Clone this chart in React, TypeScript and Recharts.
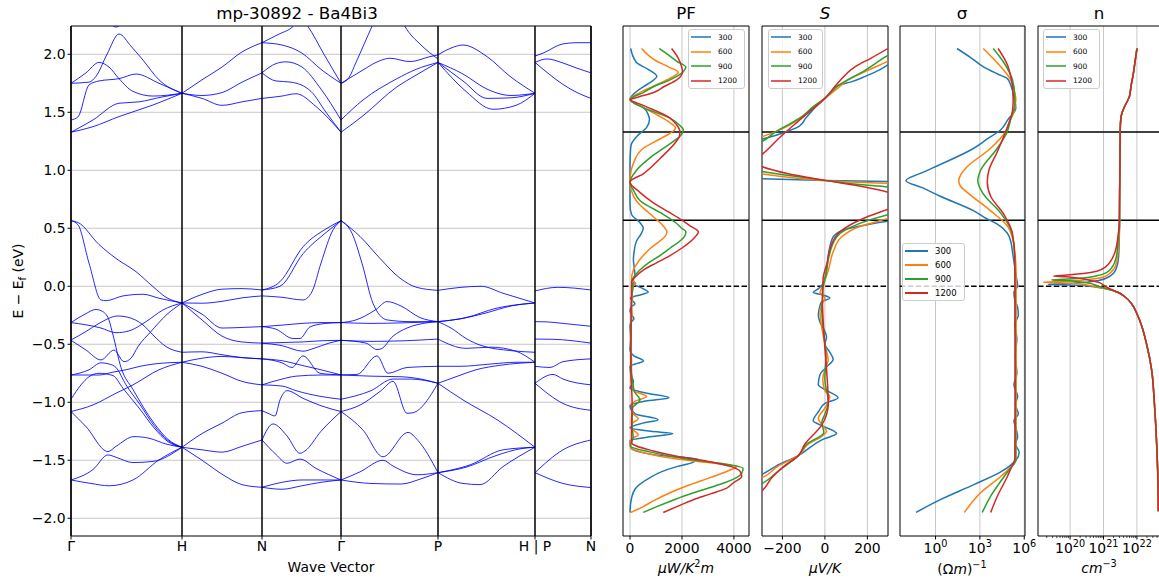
import React from 'react';
import {
  LineChart,
  Line,
  XAxis,
  YAxis,
  CartesianGrid,
  ReferenceLine,
  ReferenceArea,
  Legend,
} from 'recharts';

type Pt = [number, number];

const FONT = '"DejaVu Sans", sans-serif';
const E_MIN = -2.153;
const E_MAX = 2.244;
const energyTicks = [-2, -1.5, -1, -0.5, 0, 0.5, 1, 1.5, 2];
const gapEdges = [1.33, 0.57];

// band structure: k in plot units, high symmetry points
const kPoints = [0, 111, 191, 270, 367, 464, 520];
const kLabels = ['Γ', 'H', 'N', 'Γ', 'P', 'H | P', 'N'];

const temps = ['300', '600', '900', '1200'];
const tempColors = ['#1f77b4', '#ff7f0e', '#2ca02c', '#d62728'];

// ---- bands, one list per path segment ----
const bandsGH: Pt[][] = [
  [[0, 1.75], [18, 1.76], [25, 1.81], [36, 2.0], [48, 2.175], [60, 2.07], [72, 1.95], [88, 1.78], [111, 1.664]],
  [[0, 1.75], [15, 1.84], [28, 1.93], [38, 1.89], [48, 1.79], [62, 1.68], [82, 1.64], [111, 1.664]],
  [[0, 1.434], [7, 1.46], [18, 1.736], [28, 1.77], [48, 1.79], [65, 1.83], [88, 1.75], [111, 1.664]],
  [[0, 1.328], [22, 1.434], [48, 1.578], [68, 1.59], [90, 1.63], [111, 1.664]],
  [[0, 1.328], [22, 1.376], [48, 1.463], [82, 1.563], [111, 1.664]],
  [[35, 2.32], [45, 2.235], [55, 2.32]],
  [[0, 0.566], [7, 0.55], [28, 0.36], [45, 0.24], [65, 0.126], [82, -0.003], [95, -0.095], [111, -0.144]],
  [[0, 0.566], [7, 0.53], [18, 0.2], [30, -0.118], [35, -0.124], [52, -0.083], [72, -0.069], [88, -0.103], [111, -0.144]],
  [[0, -0.313], [14, -0.24], [25, -0.2], [30, -0.21], [37, -0.27], [42, -0.42], [50, -0.7], [62, -0.89], [83, -1.18], [97, -1.32], [111, -1.388]],
  [[0, -0.313], [30, -0.36], [45, -0.4], [58, -0.385], [75, -0.305], [92, -0.204], [111, -0.144]],
  [[0, -0.463], [15, -0.39], [28, -0.32], [47, -0.256], [57, -0.267], [72, -0.333], [82, -0.42], [95, -0.52], [111, -0.569]],
  [[0, -0.466], [15, -0.55], [30, -0.635], [43, -0.55], [53, -0.65], [60, -0.62], [67, -0.52], [80, -0.39], [95, -0.25], [111, -0.144]],
  [[0, -0.765], [28, -0.765], [42, -0.74], [55, -0.72], [69, -0.69], [83, -0.67], [111, -0.655]],
  [[0, -0.765], [18, -0.72], [30, -0.66], [38, -0.67], [45, -0.7], [55, -0.85], [69, -1.02], [83, -1.2], [97, -1.33], [111, -1.388]],
  [[0, -0.974], [10, -0.85], [18, -0.78], [28, -0.75], [42, -0.77], [52, -0.88], [69, -1.06], [83, -1.22], [97, -1.34], [111, -1.388]],
  [[0, -1.08], [22, -1.023], [45, -0.922], [62, -0.85], [88, -0.72], [111, -0.655]],
  [[0, -1.08], [15, -1.21], [37, -1.425], [45, -1.38], [63, -1.296], [78, -1.31], [95, -1.36], [111, -1.388]],
  [[0, -1.67], [22, -1.58], [37, -1.454], [45, -1.474], [62, -1.52], [82, -1.51], [111, -1.388]],
  [[0, -1.67], [20, -1.7], [38, -1.72], [62, -1.67], [88, -1.497], [111, -1.388]],
];

const bandsHN: Pt[][] = [
  [[111, 1.664], [131, 1.78], [151, 1.89], [171, 2.02], [191, 2.1]],
  [[111, 1.664], [131, 1.645], [151, 1.67], [171, 1.76], [191, 1.84]],
  [[111, 1.664], [131, 1.62], [151, 1.56], [171, 1.59], [191, 1.62]],
  [[111, -0.144], [131, -0.07], [151, -0.025], [171, -0.02], [191, -0.032]],
  [[111, -0.144], [131, -0.146], [151, -0.13], [171, -0.1], [191, -0.083]],
  [[111, -0.144], [131, -0.24], [151, -0.36], [171, -0.355], [191, -0.348]],
  [[111, -0.144], [131, -0.29], [151, -0.43], [171, -0.48], [191, -0.49]],
  [[111, -0.569], [131, -0.565], [151, -0.59], [171, -0.615], [191, -0.626]],
  [[111, -0.655], [131, -0.62], [151, -0.605], [171, -0.615], [191, -0.626]],
  [[111, -0.655], [131, -0.69], [151, -0.75], [171, -0.82], [191, -0.85]],
  [[111, -1.388], [131, -1.27], [151, -1.18], [171, -1.09], [191, -1.072]],
  [[111, -1.388], [131, -1.41], [151, -1.43], [171, -1.38], [191, -1.325]],
  [[111, -1.388], [131, -1.5], [151, -1.62], [171, -1.71], [191, -1.733]],
];

const bandsNG: Pt[][] = [
  [[191, 2.1], [207, 2.17], [222, 2.24], [230, 2.32], [237, 2.24], [253, 2.0], [270, 1.75]],
  [[191, 2.1], [211, 2.08], [231, 2.01], [250, 1.87], [270, 1.75]],
  [[191, 1.84], [205, 1.92], [215, 1.935], [231, 1.89], [250, 1.7], [270, 1.434]],
  [[191, 1.84], [205, 1.77], [220, 1.76], [240, 1.68], [255, 1.5], [270, 1.328]],
  [[191, 1.62], [211, 1.64], [225, 1.66], [245, 1.55], [270, 1.328]],
  [[191, -0.032], [209, 0.04], [232, 0.34], [256, 0.5], [270, 0.566]],
  [[191, -0.032], [209, 0.0], [232, 0.28], [256, 0.47], [270, 0.566]],
  [[191, -0.083], [211, -0.095], [232, -0.118], [241, -0.046], [250, 0.2], [262, 0.486], [270, 0.566]],
  [[191, -0.348], [211, -0.335], [231, -0.32], [250, -0.313], [270, -0.313]],
  [[191, -0.348], [205, -0.37], [222, -0.45], [229, -0.45], [239, -0.35], [255, -0.32], [270, -0.313]],
  [[191, -0.49], [211, -0.485], [231, -0.48], [250, -0.47], [270, -0.466]],
  [[191, -0.49], [210, -0.51], [232, -0.56], [243, -0.535], [258, -0.49], [270, -0.466]],
  [[191, -0.626], [211, -0.66], [221, -0.7], [232, -0.6], [249, -0.75], [270, -0.764]],
  [[191, -0.626], [210, -0.64], [230, -0.68], [250, -0.72], [270, -0.764]],
  [[191, -0.85], [211, -0.8], [225, -0.775], [250, -0.765], [270, -0.765]],
  [[191, -0.85], [211, -0.86], [225, -0.9], [250, -0.95], [270, -0.974]],
  [[191, -1.072], [197, -1.095], [204, -1.118], [209, -0.98], [216, -0.9], [232, -0.966], [250, -1.03], [270, -1.08]],
  [[191, -1.325], [202, -1.187], [216, -1.29], [229, -1.44], [234, -1.42], [250, -1.25], [270, -1.08]],
  [[191, -1.325], [205, -1.45], [216, -1.526], [229, -1.49], [245, -1.57], [270, -1.67]],
  [[191, -1.733], [211, -1.69], [231, -1.67], [270, -1.67]],
  [[191, -1.733], [211, -1.75], [231, -1.72], [250, -1.69], [270, -1.67]],
];

const bandsGP: Pt[][] = [
  [[270, 1.75], [278, 1.8], [285, 1.93], [301, 2.24], [310, 2.4]],
  [[325, 2.4], [334, 2.24], [350, 2.08], [367, 1.96]],
  [[270, 1.75], [292, 1.865], [305, 1.93], [319, 1.966], [339, 1.937], [359, 1.98], [367, 1.995]],
  [[270, 1.434], [292, 1.606], [326, 1.79], [345, 1.87], [367, 1.93]],
  [[270, 1.328], [292, 1.47], [326, 1.72], [343, 1.81], [367, 1.93]],
  [[270, 0.566], [289, 0.43], [309, 0.24], [329, 0.07], [346, -0.01], [367, -0.035]],
  [[270, 0.566], [281, 0.457], [291, 0.198], [302, -0.147], [316, -0.29], [340, -0.305], [367, -0.305]],
  [[270, -0.313], [285, -0.29], [305, -0.2], [316, -0.132], [330, -0.17], [349, -0.27], [367, -0.305]],
  [[270, -0.313], [300, -0.32], [333, -0.315], [367, -0.305]],
  [[270, -0.466], [300, -0.475], [333, -0.47], [367, -0.455]],
  [[270, -0.466], [295, -0.49], [306, -0.545], [310, -0.54], [322, -0.43], [336, -0.36], [356, -0.315], [367, -0.305]],
  [[270, -0.764], [286, -0.76], [306, -0.6], [317, -0.75], [336, -0.7], [367, -0.69]],
  [[270, -0.765], [300, -0.775], [330, -0.78], [350, -0.8], [367, -0.836]],
  [[270, -0.974], [300, -0.9], [322, -0.8], [340, -0.8], [367, -0.836]],
  [[270, -1.08], [290, -1.02], [310, -0.9], [322, -0.82], [336, -1.095], [342, -1.09], [367, -0.836]],
  [[270, -1.08], [292, -1.24], [312, -1.47], [337, -1.26], [347, -1.33], [367, -1.607]],
  [[270, -1.67], [289, -1.6], [312, -1.5], [322, -1.55], [346, -1.625], [367, -1.607]],
  [[270, -1.67], [300, -1.7], [330, -1.705], [350, -1.66], [367, -1.607]],
];

const bandsPH: Pt[][] = [
  [[367, 1.995], [379, 2.05], [392, 2.08], [416, 1.98], [439, 1.81], [464, 1.664]],
  [[367, 1.93], [392, 1.83], [416, 1.7], [440, 1.645], [464, 1.664]],
  [[367, 1.93], [392, 1.77], [416, 1.62], [440, 1.625], [464, 1.664]],
  [[367, 1.93], [395, 1.68], [422, 1.526], [445, 1.56], [464, 1.664]],
  [[367, -0.035], [389, -0.01], [410, 0.0], [432, -0.06], [464, -0.144]],
  [[367, -0.305], [390, -0.28], [415, -0.23], [440, -0.17], [464, -0.144]],
  [[367, -0.305], [395, -0.27], [425, -0.19], [450, -0.155], [464, -0.144]],
  [[367, -0.305], [380, -0.36], [395, -0.45], [410, -0.51], [440, -0.555], [464, -0.569]],
  [[367, -0.455], [395, -0.535], [420, -0.525], [445, -0.56], [464, -0.655]],
  [[367, -0.69], [389, -0.69], [420, -0.67], [445, -0.655], [464, -0.655]],
  [[367, -0.836], [385, -0.78], [405, -0.72], [430, -0.68], [464, -0.655]],
  [[367, -0.836], [392, -0.98], [426, -1.15], [464, -1.388]],
  [[367, -1.607], [399, -1.54], [432, -1.41], [464, -1.388]],
  [[367, -1.607], [395, -1.56], [425, -1.46], [450, -1.4], [464, -1.388]],
  [[367, -1.607], [392, -1.7], [409, -1.71], [432, -1.555], [464, -1.388]],
];

const bandsPN: Pt[][] = [
  [[464, 1.985], [472, 2.01], [492, 2.09], [506, 2.1], [520, 2.1]],
  [[464, 1.93], [476, 1.96], [492, 1.925], [506, 1.88], [520, 1.84]],
  [[464, 1.93], [478, 1.83], [492, 1.74], [506, 1.67], [520, 1.62]],
  [[464, -0.04], [487, -0.009], [520, -0.032]],
  [[464, -0.305], [476, -0.307], [492, -0.32], [520, -0.345]],
  [[464, -0.455], [482, -0.457], [520, -0.49]],
  [[464, -0.69], [479, -0.7], [492, -0.65], [520, -0.626]],
  [[464, -0.836], [482, -0.76], [492, -0.8], [520, -0.85]],
  [[464, -0.836], [492, -1.01], [520, -1.07]],
  [[464, -1.607], [492, -1.41], [520, -1.325]],
  [[464, -1.607], [492, -1.7], [520, -1.735]],
];

// ---- transport, [E, value] from top to bottom ----
const pf300: Pt[] = [
  [2.05, 25], [1.93, 250], [1.87, 700], [1.81, 1030], [1.76, 800], [1.72, 510], [1.66, 150], [1.61, 0], [1.57, 250],
  [1.54, 510], [1.48, 700], [1.44, 750], [1.37, 640], [1.29, 250], [1.23, 60], [1.19, 25], [1.05, 0], [0.7, 0],
  [0.62, 60], [0.55, 380], [0.5, 510], [0.45, 420], [0.39, 250], [0.3, 160], [0.23, 130], [0.15, 170], [0.1, 190],
  [0.06, 130], [0.02, 150], [-0.02, 500], [-0.05, 700], [-0.08, 300], [-0.1, 20], [-0.13, 120], [-0.15, 190],
  [-0.18, 40], [-0.21, 0], [-0.25, 80], [-0.28, 150], [-0.31, 50], [-0.34, 0], [-0.45, 30], [-0.55, 0], [-0.6, 150],
  [-0.645, 520], [-0.67, 200], [-0.69, 0], [-0.78, 60], [-0.82, 130], [-0.86, 30], [-0.88, 0], [-0.92, 600],
  [-0.96, 1500], [-0.99, 600], [-1.03, 0], [-1.1, 200], [-1.15, 1080], [-1.18, 500], [-1.22, 0], [-1.25, 800],
  [-1.27, 1650], [-1.3, 700], [-1.33, 0], [-1.39, 30], [-1.43, 400], [-1.46, 1200], [-1.49, 2600], [-1.52, 2400],
  [-1.555, 1800], [-1.6, 1200], [-1.65, 770], [-1.75, 190], [-1.87, 25], [-1.95, 0],
];
const pf600: Pt[] = [
  [2.05, 450], [1.94, 1030], [1.89, 1500], [1.845, 1860], [1.8, 1600], [1.75, 1150], [1.67, 380], [1.61, 0],
  [1.54, 510], [1.47, 1100], [1.41, 1540], [1.365, 1750], [1.32, 1550], [1.27, 1150], [1.19, 510], [1.06, 130],
  [0.95, 10], [0.9, 0], [0.78, 130], [0.7, 380], [0.65, 640], [0.57, 1050], [0.52, 1280], [0.47, 1420], [0.43, 1350],
  [0.39, 1150], [0.33, 800], [0.265, 510], [0.2, 280], [0.14, 130], [0.06, 60], [0.025, 220], [0.0, 120],
  [-0.05, 60], [-0.1, 100], [-0.15, 60], [-0.25, 80], [-0.35, 30], [-0.5, 20], [-0.65, 60], [-0.8, 40], [-0.9, 150],
  [-0.95, 640], [-0.99, 200], [-1.02, 60], [-1.1, 130], [-1.14, 320], [-1.18, 100], [-1.22, 60], [-1.28, 320],
  [-1.31, 100], [-1.35, 0], [-1.39, 20], [-1.44, 600], [-1.49, 1800], [-1.52, 3000], [-1.555, 4100], [-1.58, 3900],
  [-1.65, 3080], [-1.72, 2200], [-1.78, 1540], [-1.85, 900], [-1.9, 510], [-1.95, 25],
];
const pf900: Pt[] = [
  [2.05, 1130], [1.99, 1500], [1.94, 1800], [1.89, 2150], [1.85, 2050], [1.78, 1540], [1.72, 900], [1.67, 510],
  [1.61, 0], [1.54, 510], [1.45, 1540], [1.39, 1900], [1.35, 2050], [1.3, 1950], [1.25, 1670], [1.13, 900],
  [1.0, 250], [0.9, 0], [0.82, 150], [0.74, 380], [0.62, 1280], [0.55, 1750], [0.5, 1990], [0.47, 2150],
  [0.43, 2100], [0.39, 1920], [0.33, 1550], [0.265, 1150], [0.2, 700], [0.14, 380], [0.08, 150], [0.04, 60],
  [0.0, 120], [-0.1, 60], [-0.3, 50], [-0.6, 30], [-0.9, 150], [-0.98, 380], [-1.05, 100], [-1.2, 80], [-1.3, 120],
  [-1.38, 20], [-1.43, 800], [-1.49, 2180], [-1.53, 3600], [-1.57, 4350], [-1.61, 4300], [-1.65, 4100],
  [-1.72, 3300], [-1.78, 2440], [-1.84, 1700], [-1.9, 1030], [-1.95, 510],
];
const pf1200: Pt[] = [
  [2.05, 1600], [1.97, 1850], [1.89, 1990], [1.85, 2020], [1.81, 1950], [1.78, 1800], [1.72, 1300], [1.67, 900],
  [1.63, 300], [1.61, 25], [1.56, 510], [1.45, 1540], [1.39, 1800], [1.335, 1920], [1.29, 1900], [1.255, 1800],
  [1.1, 1150], [0.97, 510], [0.9, 0], [0.81, 380], [0.72, 900], [0.65, 1410], [0.57, 2000], [0.52, 2310],
  [0.47, 2630], [0.41, 2440], [0.33, 2000], [0.265, 1540], [0.2, 1000], [0.14, 510], [0.08, 200], [0.04, 60],
  [0.0, 60], [-0.3, 40], [-0.7, 30], [-1.0, 80], [-1.2, 60], [-1.35, 60], [-1.42, 900], [-1.465, 1800],
  [-1.51, 3000], [-1.555, 3900], [-1.6, 4250], [-1.64, 4300], [-1.69, 4000], [-1.74, 3720], [-1.79, 3100],
  [-1.84, 2440], [-1.9, 1800], [-1.95, 1280],
];

const s300: Pt[] = [
  [2.05, 400], [1.91, 297], [1.85, 240], [1.81, 190], [1.76, 120], [1.73, 60], [1.68, 30], [1.62, 0], [1.56, -35],
  [1.51, -62], [1.45, -90], [1.38, -120], [1.32, -200], [1.27, -294], [1.2, -500], [1.1, -900], [1.0, -900],
  [0.95, -600], [0.926, -294], [0.913, 0], [0.904, 297], [0.88, 700], [0.75, 1000], [0.62, 700], [0.56, 297],
  [0.527, 187], [0.49, 94], [0.425, 39], [0.3, 19], [0.14, 8], [0.026, -8], [-0.02, -30], [-0.054, -55],
  [-0.075, -10], [-0.1, 23], [-0.134, -16], [-0.18, -25], [-0.245, -31], [-0.31, -23], [-0.37, -5], [-0.437, 8],
  [-0.5, 0], [-0.56, 20], [-0.63, 39], [-0.7, 5], [-0.76, -23], [-0.85, -31], [-0.9, 10], [-0.96, 62], [-1.01, 0],
  [-1.08, -30], [-1.16, -55], [-1.2, -16], [-1.27, 55], [-1.32, -10], [-1.36, -47], [-1.46, -125], [-1.55, -230],
  [-1.62, -294], [-1.7, -420],
];
const s600: Pt[] = [
  [2.05, 400], [1.94, 297], [1.85, 187], [1.78, 110], [1.71, 62], [1.62, 0], [1.55, -50], [1.48, -94], [1.42, -140],
  [1.37, -187], [1.29, -294], [1.2, -500], [1.05, -600], [0.967, -294], [0.94, -172], [0.913, 0], [0.894, 187],
  [0.888, 297], [0.85, 600], [0.7, 700], [0.584, 297], [0.55, 230], [0.52, 172], [0.425, 78], [0.297, 39],
  [0.137, 16], [0.01, -8], [-0.054, -23], [-0.1, 0], [-0.16, -15], [-0.21, -23], [-0.34, -16], [-0.5, 0],
  [-0.64, 15], [-0.72, 0], [-0.8, -10], [-0.9, 0], [-0.95, 23], [-1.05, 0], [-1.14, -31], [-1.2, -10], [-1.25, 8],
  [-1.3, -20], [-1.36, -78], [-1.46, -125], [-1.55, -220], [-1.65, -294], [-1.72, -400],
];
const s900: Pt[] = [
  [2.05, 360], [1.99, 297], [1.86, 187], [1.73, 62], [1.62, 0], [1.55, -55], [1.46, -110], [1.33, -234],
  [1.25, -294], [1.15, -450], [1.05, -450], [0.99, -294], [0.95, -150], [0.913, 0], [0.88, 150], [0.856, 297],
  [0.8, 500], [0.7, 500], [0.616, 297], [0.536, 156], [0.425, 55], [0.233, 16], [0.1, 5], [-0.01, -8],
  [-0.086, -10], [-0.2, -15], [-0.4, -5], [-0.6, 5], [-0.8, 0], [-1.0, 16], [-1.1, 0], [-1.18, -15], [-1.26, -5],
  [-1.36, -85], [-1.46, -125], [-1.58, -210], [-1.7, -294], [-1.78, -380],
];
const s1200: Pt[] = [
  [2.05, 297], [1.97, 220], [1.89, 140], [1.75, 60], [1.62, 0], [1.51, -70], [1.4, -140], [1.27, -220],
  [1.14, -294], [1.08, -340], [1.03, -294], [0.97, -172], [0.913, 0], [0.855, 187], [0.81, 297], [0.74, 380],
  [0.664, 297], [0.6, 200], [0.55, 140], [0.45, 60], [0.36, 31], [0.2, 10], [0.073, -8], [-0.086, -12], [-0.4, -5],
  [-0.72, 8], [-1.01, 16], [-1.2, -16], [-1.36, -94], [-1.46, -125], [-1.555, -195], [-1.65, -250], [-1.76, -294],
  [-1.82, -340],
];

// sigma and n are read as log10 values
const sig300: Pt[] = [
  [2.05, 1.45], [1.97, 2.4], [1.89, 3.27], [1.83, 4.2], [1.79, 4.86], [1.73, 5.1], [1.69, 5.2], [1.6, 5.35],
  [1.54, 5.43], [1.48, 5.2], [1.45, 4.98], [1.35, 4.41], [1.27, 3.5], [1.19, 2.59], [1.05, 0.32], [0.98, -0.9],
  [0.91, -2.0], [0.85, -0.9], [0.776, 0.32], [0.65, 2.59], [0.58, 3.5], [0.536, 4.18], [0.457, 4.86], [0.38, 5.1],
  [0.3, 5.2], [0.105, 5.43], [0.0, 5.55], [-0.05, 5.3], [-0.12, 5.36], [-0.18, 5.55], [-0.25, 5.6], [-0.33, 5.35],
  [-0.45, 5.5], [-0.6, 5.4], [-0.75, 5.5], [-0.85, 5.3], [-0.95, 5.55], [-1.02, 5.4], [-1.1, 5.6], [-1.16, 5.3],
  [-1.23, 5.45], [-1.3, 5.55], [-1.36, 5.4], [-1.43, 5.66], [-1.5, 5.43], [-1.55, 5.0], [-1.6, 4.41],
  [-1.71, 2.59], [-1.84, 0.32], [-1.95, -1.32],
];
const sig600: Pt[] = [
  [2.05, 3.23], [1.925, 4.18], [1.85, 4.7], [1.78, 5.09], [1.7, 5.3], [1.61, 5.43], [1.5, 5.3], [1.42, 5.0],
  [1.335, 4.75], [1.19, 3.73], [1.03, 2.14], [0.96, 1.7], [0.91, 1.57], [0.86, 1.7], [0.81, 2.14], [0.65, 3.73],
  [0.52, 4.86], [0.42, 5.2], [0.3, 5.36], [0.1, 5.45], [-0.5, 5.45], [-1.0, 5.45], [-1.5, 5.43], [-1.57, 5.0],
  [-1.64, 4.41], [-1.78, 3.05], [-1.95, 1.95],
];
const sig900: Pt[] = [
  [2.05, 3.9], [1.925, 4.64], [1.78, 5.2], [1.65, 5.35], [1.57, 5.36], [1.45, 5.1], [1.335, 4.86], [1.19, 4.18],
  [1.0, 3.05], [0.91, 2.86], [0.81, 3.16], [0.63, 4.41], [0.49, 5.09], [0.35, 5.3], [0.2, 5.36], [-0.5, 5.4],
  [-1.0, 5.4], [-1.5, 5.43], [-1.57, 5.05], [-1.64, 4.64], [-1.81, 3.73], [-1.95, 3.16],
];
const sig1200: Pt[] = [
  [2.05, 4.23], [1.91, 4.86], [1.8, 5.1], [1.73, 5.2], [1.6, 5.25], [1.51, 5.2], [1.42, 5.0], [1.335, 4.75],
  [1.16, 4.18], [1.0, 3.61], [0.9, 3.5], [0.776, 3.73], [0.616, 4.64], [0.457, 5.2], [0.23, 5.36], [-0.5, 5.38],
  [-1.0, 5.38], [-1.49, 5.36], [-1.57, 5.1], [-1.64, 4.86], [-1.81, 4.18], [-1.95, 3.73],
];

const nTop: Pt[] = [
  [2.05, 22.0], [1.95, 21.95], [1.83, 21.89], [1.72, 21.82], [1.64, 21.78], [1.6, 21.72], [1.55, 21.63],
  [1.5, 21.56], [1.45, 21.52], [1.35, 21.5], [1.0, 21.49], [0.7, 21.48],
];
const nBottom: Pt[] = [
  [-0.054, 21.44], [-0.086, 21.62], [-0.15, 21.84], [-0.25, 22.02], [-0.34, 22.14], [-0.5, 22.29], [-0.72, 22.44],
  [-1.0, 22.52], [-1.36, 22.59], [-1.7, 22.63], [-1.94, 22.64],
];
const nKnee300: Pt[] = [
  [0.55, 21.48], [0.4, 21.47], [0.25, 21.45], [0.17, 21.4], [0.12, 21.32], [0.08, 21.15], [0.05, 20.85],
  [0.035, 20.5], [0.025, 20.0], [0.019, 19.6], [0.016, 19.35], [0.013, 19.7], [0.008, 20.2], [0.0, 20.6],
  [-0.006, 20.75], [-0.03, 21.2],
];
const nKnee600: Pt[] = [
  [0.55, 21.48], [0.4, 21.46], [0.25, 21.42], [0.17, 21.35], [0.12, 21.22], [0.08, 21.0], [0.06, 20.6],
  [0.045, 20.0], [0.038, 19.5], [0.035, 19.2], [0.032, 19.5], [0.026, 20.0], [0.015, 20.4], [0.0, 20.7],
  [-0.03, 21.2],
];
const nKnee900: Pt[] = [
  [0.55, 21.48], [0.4, 21.44], [0.25, 21.38], [0.17, 21.27], [0.12, 21.1], [0.09, 20.8], [0.07, 20.3],
  [0.06, 19.8], [0.054, 19.45], [0.05, 19.8], [0.042, 20.2], [0.025, 20.6], [0.0, 20.85], [-0.03, 21.22],
];
const nKnee1200: Pt[] = [
  [0.55, 21.47], [0.4, 21.42], [0.3, 21.35], [0.22, 21.22], [0.17, 21.07], [0.13, 20.8], [0.11, 20.4],
  [0.097, 19.9], [0.088, 19.5], [0.082, 19.85], [0.073, 20.15], [0.055, 20.55], [0.035, 20.85], [0.0, 21.05],
  [-0.03, 21.25],
];

const pfTicks = [0, 2000, 4000];
const sTicks = [-200, 0, 200];
const sigmaTicks = [1, 1e3, 1e6];
const nMajorTicks = [1e20, 1e21, 1e22];
const nMinorSteps = [2, 3, 4, 5, 6, 7, 8, 9];
const nTicks = [
  ...nMinorSteps.map((m) => m * 1e19),
  ...nMinorSteps.map((m) => m * 1e20),
  ...nMinorSteps.map((m) => m * 1e21),
  ...[2, 3, 4].map((m) => m * 1e22),
  ...nMajorTicks,
].sort((a, b) => a - b);

const PLOT_TOP = 26;
const PLOT_BOTTOM = 536;

const fmtEnergy = (v: number) => (v < 0 ? '−' : '') + Math.abs(v).toFixed(1);
const fmtSigned = (v: number) => (v < 0 ? '−' + Math.abs(v) : String(v));

function plainTick(format: (v: number) => string) {
  return (props: any) => {
    const { x, payload } = props;
    return (
      <g>
        <line x1={x} x2={x} y1={PLOT_BOTTOM} y2={PLOT_BOTTOM + 3.5} stroke="#000" />
        <text x={x} y={PLOT_BOTTOM + 17} textAnchor="middle" fontSize={13.9} fill="#000">
          {format(payload.value)}
        </text>
      </g>
    );
  };
}

function logTick(props: any) {
  const { x, payload } = props;
  const lg = Math.log10(payload.value);
  const exp = Math.round(lg);
  const major = Math.abs(lg - exp) < 1e-6;
  return (
    <g>
      <line x1={x} x2={x} y1={PLOT_BOTTOM} y2={PLOT_BOTTOM + (major ? 3.5 : 2)} stroke="#000" strokeWidth={major ? 1 : 0.7} />
      {major && (
        <text x={x} y={PLOT_BOTTOM + 17} textAnchor="middle" fontSize={13.9} fill="#000">
          10
          <tspan dy={-6} fontSize={9.7}>
            {exp}
          </tspan>
        </text>
      )}
    </g>
  );
}

function legendContent(fontSize: number, lineLen: number, rowH: number, lineW: number) {
  return (props: any) => {
    const items = [...(props.payload || [])].sort(
      (a: any, b: any) => temps.indexOf(String(a.value)) - temps.indexOf(String(b.value)),
    );
    return (
      <div
        style={{
          background: 'rgba(255,255,255,0.8)',
          border: '1px solid #cccccc',
          borderRadius: 3,
          padding: '0 4px 0 2px',
          fontFamily: FONT,
          fontSize,
          color: '#000',
        }}
      >
        {items.map((p: any) => (
          <div key={p.value} style={{ display: 'flex', alignItems: 'center', height: rowH }}>
            <svg width={lineLen} height={4} style={{ display: 'block' }}>
              <line x1={0} y1={2} x2={lineLen} y2={2} stroke={p.color} strokeWidth={lineW} />
            </svg>
            <span style={{ marginLeft: 7 }}>{p.value}</span>
          </div>
        ))}
      </div>
    );
  };
}

function BandPanel() {
  const segments = [bandsGH, bandsHN, bandsNG, bandsGP, bandsPH, bandsPN];
  const lines = segments.flat().map((pts) => pts.map(([k, e]) => ({ k, e })));
  return (
    <div style={{ position: 'absolute', left: 0, top: 0 }}>
      <LineChart width={600} height={580} margin={{ top: PLOT_TOP, right: 9, bottom: 0, left: 0 }}>
        <CartesianGrid vertical={false} stroke="#c8c8c8" horizontalValues={energyTicks} />
        <XAxis
          type="number"
          dataKey="k"
          domain={[0, 520]}
          allowDataOverflow
          ticks={kPoints}
          interval={0}
          tickFormatter={(v: number) => kLabels[kPoints.indexOf(v)]}
          height={44}
          tickSize={3.5}
          axisLine={false}
          tickLine={{ stroke: '#000' }}
          tick={{ fill: '#000', fontSize: 13.9 }}
        />
        <YAxis
          type="number"
          domain={[E_MIN, E_MAX]}
          allowDataOverflow
          ticks={energyTicks}
          interval={0}
          width={71}
          tickFormatter={fmtEnergy}
          tickSize={3.5}
          axisLine={false}
          tickLine={{ stroke: '#000' }}
          tick={{ fill: '#000', fontSize: 13.9 }}
        />
        {lines.map((data, i) => (
          <Line
            key={`band-${i}`}
            data={data}
            dataKey="e"
            type="monotone"
            stroke="#0000ff"
            strokeWidth={1}
            strokeOpacity={0.85}
            dot={false}
            activeDot={false}
            isAnimationActive={false}
            legendType="none"
          />
        ))}
        {kPoints.map((k) => (
          <ReferenceLine key={`k-${k}`} x={k} stroke="#000" strokeWidth={1.5} />
        ))}
        <ReferenceArea x1={0} x2={520} y1={E_MIN} y2={E_MAX} fill="none" stroke="#000" strokeWidth={1} ifOverflow="visible" />
      </LineChart>
    </div>
  );
}

type SideProps = {
  left: number;
  width: number;
  series: Pt[][];
  logValues?: boolean;
  domain: [number, number];
  scale?: 'log' | 'linear';
  ticks: number[];
  gridX: number[];
  tick: (props: any) => any;
  legendBox: { left: number; top: number; width: number };
  legendStyle: [number, number, number, number];
};

function SidePanel(p: SideProps) {
  const yAxisW = 10;
  const rightPad = 14;
  const chartLeft = p.left - yAxisW;
  const rows = p.series.map((pts) => pts.map(([e, v]) => ({ e, v: p.logValues ? Math.pow(10, v) : v })));
  return (
    <div style={{ position: 'absolute', left: chartLeft, top: 0 }}>
      <LineChart
        layout="vertical"
        width={yAxisW + p.width + rightPad}
        height={580}
        margin={{ top: PLOT_TOP, right: rightPad, bottom: 0, left: 0 }}
      >
        <CartesianGrid stroke="#c8c8c8" horizontalValues={energyTicks} verticalValues={p.gridX} />
        <XAxis
          type="number"
          dataKey="v"
          scale={p.scale || 'linear'}
          domain={p.domain}
          allowDataOverflow
          ticks={p.ticks}
          interval={0}
          height={44}
          axisLine={false}
          tickLine={false}
          tick={p.tick}
        />
        <YAxis
          type="number"
          dataKey="e"
          domain={[E_MIN, E_MAX]}
          reversed
          allowDataOverflow
          ticks={energyTicks}
          interval={0}
          width={yAxisW}
          tick={false}
          tickSize={3.5}
          axisLine={false}
          tickLine={{ stroke: '#000' }}
        />
        {gapEdges.map((g) => (
          <ReferenceLine key={`g-${g}`} y={g} stroke="#000" strokeWidth={1.5} />
        ))}
        <ReferenceLine y={0} stroke="#000" strokeWidth={1.5} strokeDasharray="5.5 2.4" />
        {rows.map((data, i) => (
          <Line
            key={temps[i]}
            name={temps[i]}
            data={data}
            dataKey="v"
            type="monotone"
            stroke={tempColors[i]}
            strokeWidth={1.5}
            dot={false}
            activeDot={false}
            isAnimationActive={false}
          />
        ))}
        <ReferenceArea
          x1={p.domain[0]}
          x2={p.domain[1]}
          y1={E_MIN}
          y2={E_MAX}
          fill="none"
          stroke="#000"
          strokeWidth={1}
          ifOverflow="visible"
        />
        <Legend
          layout="vertical"
          align="center"
          verticalAlign="middle"
          wrapperStyle={{ left: p.legendBox.left - chartLeft, top: p.legendBox.top, width: p.legendBox.width }}
          content={legendContent(...p.legendStyle)}
        />
      </LineChart>
    </div>
  );
}

export default function App() {
  return (
    <div
      style={{
        position: 'absolute',
        left: 0,
        top: 0,
        width: 1159,
        height: 580,
        overflow: 'hidden',
        background: '#fff',
        fontFamily: FONT,
      }}
    >
      <BandPanel />
      <SidePanel
        left={623}
        width={126}
        series={[pf300, pf600, pf900, pf1200]}
        domain={[-270, 4580]}
        ticks={pfTicks}
        gridX={pfTicks}
        tick={plainTick((v) => String(v))}
        legendBox={{ left: 688, top: 29, width: 57 }}
        legendStyle={[7.5, 20, 14.5, 1.5]}
      />
      <SidePanel
        left={762}
        width={126}
        series={[s300, s600, s900, s1200]}
        domain={[-296, 297]}
        ticks={sTicks}
        gridX={sTicks}
        tick={plainTick(fmtSigned)}
        legendBox={{ left: 768, top: 29, width: 55 }}
        legendStyle={[7.5, 20, 14.5, 1.5]}
      />
      <SidePanel
        left={900}
        width={125}
        series={[sig300, sig600, sig900, sig1200]}
        logValues
        scale="log"
        domain={[Math.pow(10, -2.4), Math.pow(10, 6.05)]}
        ticks={sigmaTicks}
        gridX={sigmaTicks}
        tick={logTick}
        legendBox={{ left: 902, top: 243, width: 63 }}
        legendStyle={[8.5, 23, 14, 2]}
      />
      <SidePanel
        left={1038}
        width={122}
        series={[
          [...nTop, ...nKnee300, ...nBottom],
          [...nTop, ...nKnee600, ...nBottom],
          [...nTop, ...nKnee900, ...nBottom],
          [...nTop, ...nKnee1200, ...nBottom],
        ]}
        logValues
        scale="log"
        domain={[Math.pow(10, 19.04), Math.pow(10, 22.69)]}
        ticks={nTicks}
        gridX={nMajorTicks}
        tick={logTick}
        legendBox={{ left: 1043, top: 29, width: 57 }}
        legendStyle={[7.5, 20, 14.5, 1.5]}
      />
      <svg
        width={1159}
        height={580}
        style={{ position: 'absolute', left: 0, top: 0, pointerEvents: 'none' }}
        fontFamily={FONT}
      >
        <text x={297} y={19} textAnchor="middle" fontSize={16.7} fill="#000">
          mp-30892 - Ba4Bi3
        </text>
        <text x={686} y={19} textAnchor="middle" fontSize={16.7} fill="#000">
          PF
        </text>
        <text x={825} y={19} textAnchor="middle" fontSize={16.7} fontStyle="italic" fill="#000">
          S
        </text>
        <text x={962} y={19} textAnchor="middle" fontSize={16.7} fill="#000">
          σ
        </text>
        <text x={1099} y={19} textAnchor="middle" fontSize={16.7} fill="#000">
          n
        </text>
        <text x={331} y={572} textAnchor="middle" fontSize={13.9} fill="#000">
          Wave Vector
        </text>
        <text transform="translate(23,281) rotate(-90)" textAnchor="middle" fontSize={13.9} fill="#000">
          E − E<tspan dy={3} fontSize={10}>f</tspan>
          <tspan dy={-3}> (eV)</tspan>
        </text>
        <text x={686} y={573} textAnchor="middle" fontSize={13.9} fontStyle="italic" fill="#000">
          μW/K<tspan dy={-6} fontSize={9.7} fontStyle="normal">2</tspan>
          <tspan dy={6}>m</tspan>
        </text>
        <text x={825} y={573} textAnchor="middle" fontSize={13.9} fontStyle="italic" fill="#000">
          μV/K
        </text>
        <text x={962} y={574} textAnchor="middle" fontSize={13.9} fill="#000">
          (Ω<tspan fontStyle="italic">m</tspan>)<tspan dy={-6} fontSize={9.7}>−1</tspan>
        </text>
        <text x={1099} y={573} textAnchor="middle" fontSize={13.9} fontStyle="italic" fill="#000">
          cm<tspan dy={-6} fontSize={9.7} fontStyle="normal">−3</tspan>
        </text>
      </svg>
    </div>
  );
}
